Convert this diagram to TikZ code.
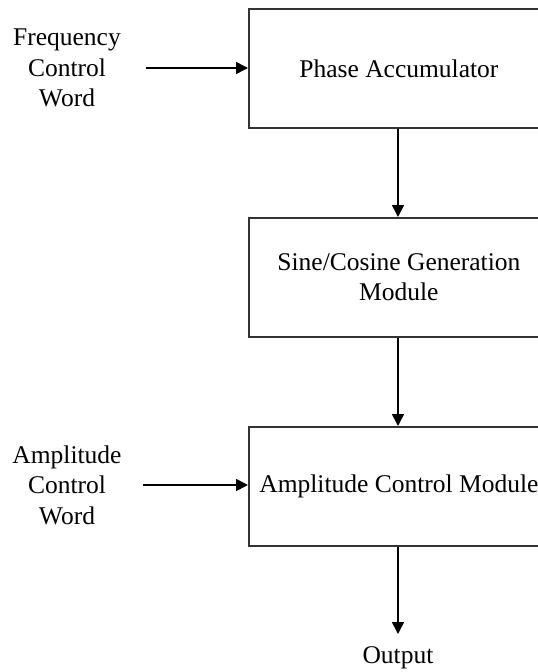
\documentclass[tikz,border=0pt]{standalone}
\usepackage{fontspec}
\setmainfont{Liberation Serif}
\usetikzlibrary{arrows.meta}
\begin{document}
\begin{tikzpicture}[x=1pt,y=-1pt,
  blk/.style={draw=black!80,line width=1.8pt,minimum width=300pt,minimum height=119pt,anchor=north west,inner sep=0pt,align=center},
  lbl/.style={align=center,inner sep=0pt},
  conn/.style={line width=1.6pt,-{Triangle[length=12pt,width=12pt]}},
  font=\fontsize{25.5}{30.5}\selectfont]
\useasboundingbox (0,0) rectangle (538,672);
\node[blk] (pa) at (248,8) {Phase Accumulator};
\node[blk] (sc) at (248,217) {Sine/Cosine Generation\\Module};
\node[blk] (am) at (248,426) {Amplitude Control Module};
\node[lbl] (fcw) at (67,68) {Frequency\\Control\\Word};
\node[lbl] (acw) at (67,485) {Amplitude\\Control\\Word};
\node[lbl] (out) at (398,658) {Output};
\coordinate (fin) at (146,68);
\coordinate (ain) at (143,485);
\coordinate (oend) at (398,634);
\draw[conn] (fin) -- (fin -| pa.west);
\draw[conn] (ain) -- (ain -| am.west);
\draw[conn] (pa.south -| oend) -- (sc.north -| oend);
\draw[conn] (sc.south -| oend) -- (am.north -| oend);
\draw[conn] (am.south -| oend) -- (oend);
\end{tikzpicture}
\end{document}
